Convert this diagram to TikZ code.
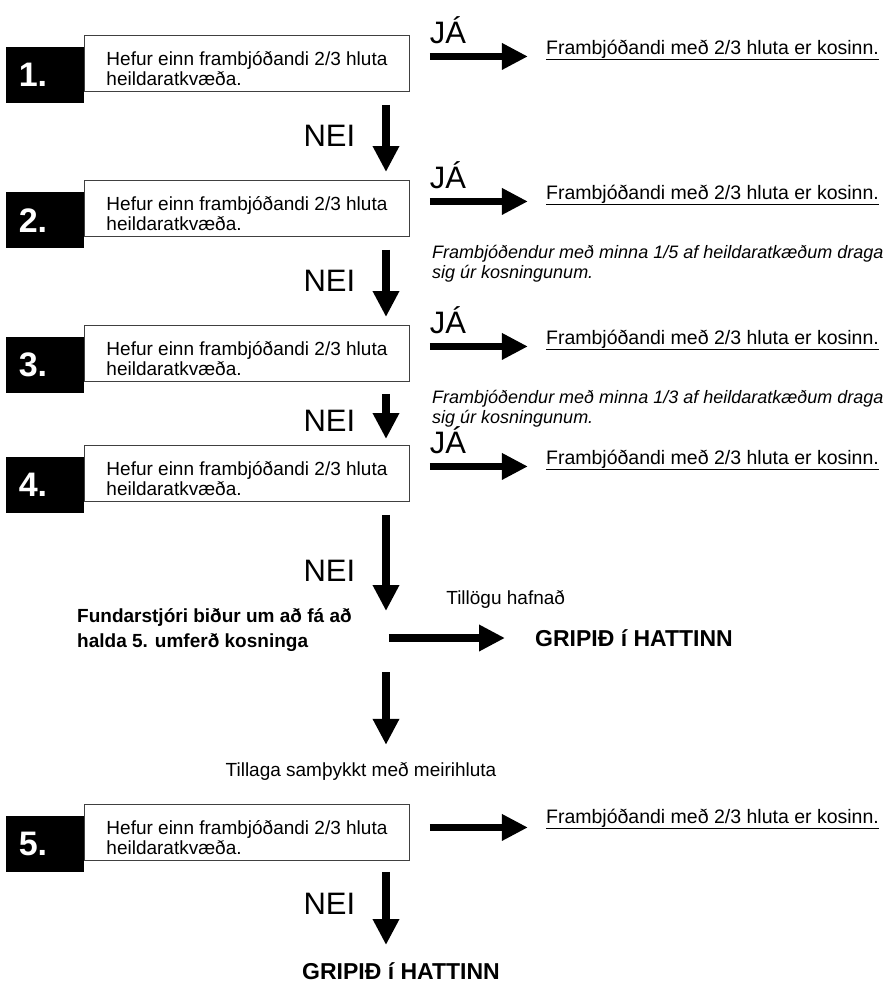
\documentclass[tikz,border=0pt]{standalone}
\usepackage{fontspec}
\setmainfont{Liberation Sans}
\usetikzlibrary{arrows.meta,positioning}

\tikzset{
  qbox/.style={draw=black!75, line width=0.9pt, minimum width=325pt, minimum height=56pt,
    inner ysep=2pt, align=left, anchor=north west, font=\fontsize{19}{20}\selectfont},
  numbox/.style={fill=black, text=white, minimum width=78pt, minimum height=56pt,
    text width=52pt, inner xsep=13pt, inner ysep=0pt, align=left, anchor=north east,
    font=\bfseries\fontsize{34}{34}\selectfont},
  resulttext/.style={anchor=base west, inner sep=0pt, font=\fontsize{19.5}{22}\selectfont},
  notetext/.style={anchor=north west, inner sep=0pt, align=left, font=\itshape\fontsize{18}{20}\selectfont},
  bigarrow/.style={line width=7.5pt, -{Triangle[length=26pt,width=25pt]}},
  answerlabel/.style={inner sep=0pt, font=\fontsize{31}{31}\selectfont},
  plaintext/.style={inner sep=0pt, align=left, font=\fontsize{19}{25}\selectfont},
  hattext/.style={inner sep=0pt, font=\bfseries\fontsize{23}{25}\selectfont},
}

\newcommand{\qtxt}{\rule{0pt}{24pt}Hefur einn frambjóðandi 2/3 hluta\\heildaratkvæða.}
\newcommand{\restxt}{\underline{Frambjóðandi með 2/3 hluta er kosinn.}}

\begin{document}
\begin{tikzpicture}[x=1pt, y=-1pt]
  \useasboundingbox (0,0) rectangle (883,983);
  \coordinate (sp) at (386,0);

  % BLOCKS
  \node[qbox] (q1) at (84,35) {\qtxt};
  \node[qbox] (q2) at (84,180) {\qtxt};
  \node[qbox] (q3) at (84,325) {\qtxt};
  \node[qbox] (q4) at (84,445) {\qtxt};
  \node[qbox] (q5) at (84,804) {\qtxt};
  \node[numbox] (n1) at ([yshift=-12pt]q1.north west) {1.};
  \node[numbox] (n2) at ([yshift=-12pt]q2.north west) {2.};
  \node[numbox] (n3) at ([yshift=-12pt]q3.north west) {3.};
  \node[numbox] (n4) at ([yshift=-12pt]q4.north west) {4.};
  \node[numbox] (n5) at ([yshift=-12pt]q5.north west) {5.};

  % RESULTS AND NOTES
  \node[resulttext] (r1) at ([xshift=136pt, yshift=-19pt]q1.north east) {\restxt};
  \node[resulttext] (r2) at ([xshift=136pt, yshift=-19pt]q2.north east) {\restxt};
  \node[resulttext] (r3) at ([xshift=136pt, yshift=-19pt]q3.north east) {\restxt};
  \node[resulttext] (r4) at ([xshift=136pt, yshift=-19pt]q4.north east) {\restxt};
  \node[resulttext] (r5) at ([xshift=136pt, yshift=-19pt]q5.north east) {\restxt};
  \node[notetext] (m2) at (432,245) {Frambjóðendur með minna 1/5 af heildaratkæðum draga\\sig úr kosningunum.};
  \node[notetext] (m3) at (432,390) {Frambjóðendur með minna 1/3 af heildaratkæðum draga\\sig úr kosningunum.};
  \node[plaintext, anchor=north west] (f) at (77,608) {\bfseries Fundarstjóri biður um að fá að\\\bfseries halda 5. umferð kosninga};
  \node[hattext, anchor=west] (g1) at (535,638) {GRIPIÐ í HATTINN};
  \node[plaintext] (ts) at (361,771) {Tillaga samþykkt með meirihluta};
  \node[hattext, anchor=north] (g2) at (401,962) {GRIPIÐ í HATTINN};

  % ARROWS JA
  \draw[bigarrow, shorten <=20pt, shorten >=18pt] ([yshift=7pt]q1.east) -- ([yshift=7pt]q1.east -| r1.west)
    node[answerlabel, pos=0.28, above=9pt] {JÁ};
  \draw[bigarrow, shorten <=20pt, shorten >=18pt] ([yshift=7pt]q2.east) -- ([yshift=7pt]q2.east -| r2.west)
    node[answerlabel, pos=0.28, above=9pt] {JÁ};
  \draw[bigarrow, shorten <=20pt, shorten >=18pt] ([yshift=7pt]q3.east) -- ([yshift=7pt]q3.east -| r3.west)
    node[answerlabel, pos=0.28, above=9pt] {JÁ};
  \draw[bigarrow, shorten <=20pt, shorten >=18pt] ([yshift=7pt]q4.east) -- ([yshift=7pt]q4.east -| r4.west)
    node[answerlabel, pos=0.28, above=9pt] {JÁ};
  \draw[bigarrow, shorten <=20pt, shorten >=18pt] ([yshift=5pt]q5.east) -- ([yshift=5pt]q5.east -| r5.west);

  % ARROWS NEI
  \draw[bigarrow, shorten <=13pt, shorten >=8pt] (q1.south -| sp) -- (q2.north -| sp)
    node[answerlabel, midway, left=27pt] {NEI};
  \draw[bigarrow, shorten <=13pt, shorten >=8pt] (q2.south -| sp) -- (q3.north -| sp)
    node[answerlabel, midway, left=27pt] {NEI};
  \draw[bigarrow, shorten <=12pt, shorten >=6pt] (q3.south -| sp) -- (q4.north -| sp)
    node[answerlabel, pos=0.62, left=27pt] {NEI};
  \draw[bigarrow, shorten <=13pt, shorten >=-3pt] (q4.south -| sp) -- (f.north -| sp)
    node[answerlabel, pos=0.65, left=27pt] {NEI};
  \draw[bigarrow, shorten <=11pt, shorten >=17pt] (q5.south -| sp) -- (g2.north -| sp)
    node[answerlabel, pos=0.42, left=27pt] {NEI};

  % ARROWS VOTE
  \draw[bigarrow, shorten <=37pt, shorten >=30pt] (g1.west -| f.east) -- (g1.west)
    node[plaintext, pos=0.84, above=26pt] {Tillögu hafnað};
  \draw[bigarrow, shorten <=21pt, shorten >=17pt] (f.south -| sp) -- (ts.north -| sp);
\end{tikzpicture}
\end{document}
